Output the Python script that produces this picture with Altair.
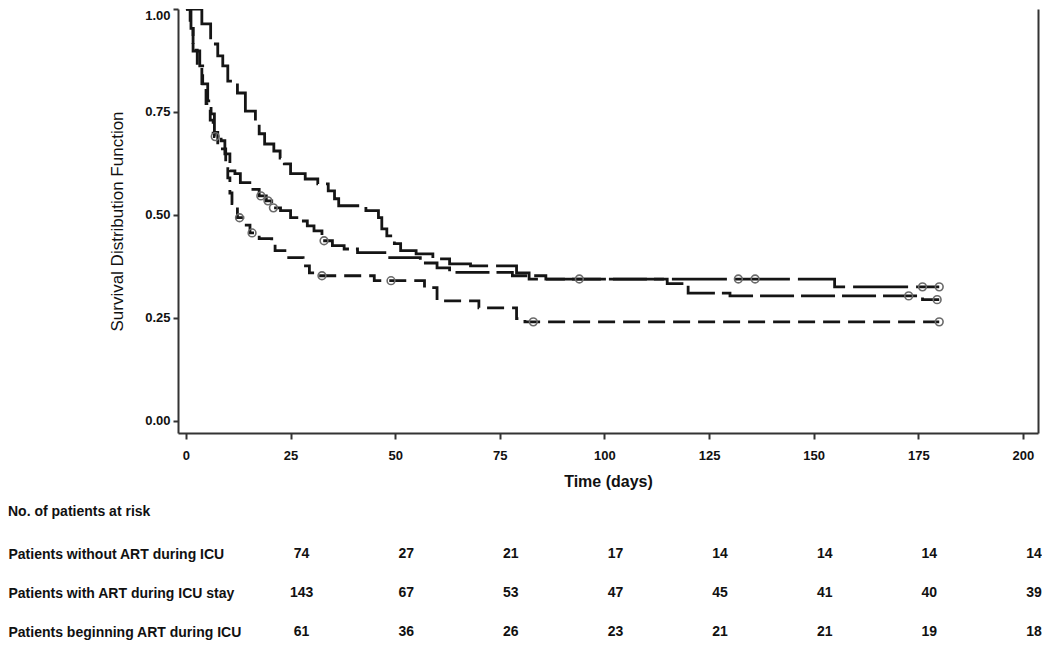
import altair as alt
import pandas as pd

# ---------------- Kaplan-Meier step curves ----------------
groups = ["Patients beginning ART during ICU",
          "Patients with ART during ICU stay",
          "Patients without ART during ICU"]

a_time = [0, 3.8, 5.9, 7.6, 8.8, 10.0, 12.3, 14.2, 16.6, 17.5, 18.8, 21.0, 22.5, 23.5,
          25.0, 28.5, 31.5, 34.0, 35.5, 36.5, 43.0, 46.0, 46.8, 48.0, 49.8, 51.3, 55.0,
          59.0, 63.0, 68.0, 79.0, 82.0, 155.0, 180.0]
a_surv = [1.0, 0.964, 0.915, 0.886, 0.862, 0.825, 0.796, 0.752, 0.728, 0.697, 0.672, 0.655,
          0.638, 0.624, 0.600, 0.587, 0.575, 0.558, 0.539, 0.522, 0.510, 0.493, 0.466, 0.449,
          0.430, 0.413, 0.405, 0.393, 0.381, 0.376, 0.359, 0.344, 0.325, 0.325]

b_time = [0, 1.2, 1.7, 3.3, 4.0, 5.2, 6.0, 6.8, 8.4, 9.3, 10.5, 11.7, 13.0, 16.0, 17.5,
          19.2, 20.5, 22.6, 25.0, 27.0, 29.0, 30.6, 32.5, 35.0, 37.8, 41.0, 48.0, 56.0,
          60.0, 63.0, 78.0, 86.0, 115.0, 120.0, 130.0, 176.0, 180.0]
b_surv = [1.0, 0.953, 0.898, 0.862, 0.818, 0.777, 0.745, 0.690, 0.680, 0.648, 0.607, 0.600,
          0.578, 0.562, 0.546, 0.534, 0.517, 0.510, 0.493, 0.485, 0.473, 0.461, 0.437,
          0.425, 0.417, 0.408, 0.396, 0.383, 0.371, 0.360, 0.352, 0.344, 0.333, 0.310,
          0.303, 0.294, 0.294]

c_time = [0, 1.0, 1.7, 2.7, 3.8, 4.8, 5.8, 6.5, 7.6, 9.5, 10.0, 10.5, 11.0, 12.3, 14.0,
          15.3, 17.5, 20.5, 21.3, 24.2, 28.0, 29.5, 31.0, 45.0, 57.0, 60.0, 70.0, 79.0,
          81.0, 180.0]
c_surv = [1.0, 0.960, 0.900, 0.860, 0.810, 0.770, 0.730, 0.700, 0.660, 0.624, 0.590, 0.553,
          0.527, 0.493, 0.475, 0.456, 0.442, 0.432, 0.413, 0.396, 0.376, 0.359, 0.352,
          0.340, 0.323, 0.291, 0.274, 0.248, 0.240, 0.240]

# censored observations (circles)
a_cens_time = [94.0, 132.0, 136.0, 176.0, 180.0]
a_cens_surv = [0.344, 0.344, 0.344, 0.325, 0.325]
b_cens_time = [7.0, 17.9, 19.6, 20.9, 33.0, 172.7, 179.5]
b_cens_surv = [0.690, 0.546, 0.534, 0.517, 0.437, 0.303, 0.294]
c_cens_time = [12.8, 15.8, 32.5, 49.0, 83.0, 180.0]
c_cens_surv = [0.493, 0.456, 0.352, 0.340, 0.240, 0.240]

# ---------------- number at risk table ----------------
risk_times = [25, 50, 75, 100, 125, 150, 175, 200]
risk_rows = ["Patients without ART during ICU",
             "Patients with ART during ICU stay",
             "Patients beginning ART during ICU"]
risk_without = [74, 27, 21, 17, 14, 14, 14, 14]
risk_with = [143, 67, 53, 47, 45, 41, 40, 39]
risk_beginning = [61, 36, 26, 23, 21, 21, 19, 18]

x_ticks = [0, 25, 50, 75, 100, 125, 150, 175, 200]
y_ticks = [0.0, 0.25, 0.50, 0.75, 1.00]
dashes = [[55, 8], [34, 7], [17, 8]]

# ---------------- build tables ----------------
km = pd.concat([
    pd.DataFrame({"time": a_time, "surv": a_surv, "group": groups[0]}),
    pd.DataFrame({"time": b_time, "surv": b_surv, "group": groups[1]}),
    pd.DataFrame({"time": c_time, "surv": c_surv, "group": groups[2]}),
], ignore_index=True)

cens = pd.concat([
    pd.DataFrame({"time": a_cens_time, "surv": a_cens_surv, "group": groups[0]}),
    pd.DataFrame({"time": b_cens_time, "surv": b_cens_surv, "group": groups[1]}),
    pd.DataFrame({"time": c_cens_time, "surv": c_cens_surv, "group": groups[2]}),
], ignore_index=True)

risk = pd.concat([
    pd.DataFrame({"time": risk_times, "n": risk_without, "row": risk_rows[0]}),
    pd.DataFrame({"time": risk_times, "n": risk_with, "row": risk_rows[1]}),
    pd.DataFrame({"time": risk_times, "n": risk_beginning, "row": risk_rows[2]}),
], ignore_index=True)

FONT = "Liberation Sans, Arial, sans-serif"
W = 860

xscale = alt.Scale(domain=[-1.9, 203.6], nice=False, zero=False)
yscale = alt.Scale(domain=[-0.03, 1.0], nice=False, zero=False)

x_axis = alt.Axis(values=x_ticks, title="Time (days)", format="d",
                  grid=False, tickSize=6, labelPadding=10, titlePadding=11,
                  labelFont=FONT, labelFontSize=13, labelFontWeight="bold",
                  titleFont=FONT, titleFontSize=16, titleFontWeight="bold",
                  labelColor="#111", titleColor="#111",
                  domainColor="#333", domainWidth=2, tickColor="#333", tickWidth=2)

lines = alt.Chart(km).mark_line(
    interpolate="step-after", strokeWidth=2.8, color="#151515", clip=True
).encode(
    x=alt.X("time:Q", scale=xscale, axis=x_axis),
    y=alt.Y("surv:Q", scale=yscale,
            axis=alt.Axis(values=y_ticks, format=".2f",
                          title="Survival Distribution Function",
                          grid=False, tickSize=5, labelPadding=3, titlePadding=18,
                          labelFlush=True, labelFlushOffset=0,
                          labelFont=FONT, labelFontSize=13, labelFontWeight="bold",
                          titleFont=FONT, titleFontSize=17, titleFontWeight="normal",
                          labelColor="#111", titleColor="#111",
                          domainColor="#333", domainWidth=2, tickColor="#333",
                          tickWidth=2)),
    strokeDash=alt.StrokeDash("group:N", scale=alt.Scale(domain=groups, range=dashes),
                              legend=None),
    detail="group:N",
)

points = alt.Chart(cens).mark_point(
    shape="circle", size=60, filled=False, color="#6a6a6a", strokeWidth=1.6, opacity=1
).encode(
    x=alt.X("time:Q", scale=xscale, axis=x_axis),
    y=alt.Y("surv:Q", scale=yscale,
            axis=alt.Axis(orient="right", labels=False, ticks=False, title=None,
                          grid=False, domainColor="#333", domainWidth=2)),
)

main = alt.layer(lines, points).resolve_axis(y="independent").properties(
    width=W, height=424
)

table = alt.Chart(risk).mark_text(
    font=FONT, fontSize=14, fontWeight="bold", color="#111", dx=11,
    align="center", baseline="middle"
).encode(
    x=alt.X("time:Q", scale=xscale, axis=None),
    y=alt.Y("row:N", scale=alt.Scale(type="point", domain=risk_rows, padding=0),
            axis=alt.Axis(title=None, labelAlign="left", labelPadding=170,
                          ticks=False, tickSize=0, domain=False, grid=False,
                          labelFont=FONT, labelFontSize=14, labelFontWeight="bold",
                          labelColor="#111", labelLimit=400)),
    text="n:Q",
).properties(
    width=W, height=78,
    title=alt.TitleParams("No. of patients at risk", anchor="start", frame="bounds",
                          font=FONT, fontSize=14, fontWeight="bold", color="#111",
                          offset=14, baseline="bottom"),
)

chart = alt.vconcat(main, table, spacing=16).properties(
    padding={"left": 0, "top": 0, "right": 0, "bottom": 4}, background="white"
).configure_view(stroke=None)

chart.save("out.html", embed_options={"renderer": "svg", "actions": False})
